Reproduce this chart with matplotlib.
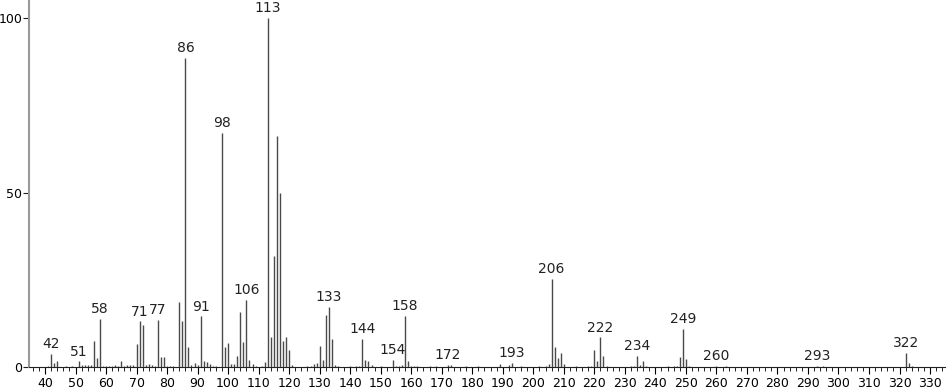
import numpy as np
import matplotlib
matplotlib.use("Agg")
import matplotlib.pyplot as plt
from matplotlib.ticker import MultipleLocator

# m/z values and relative intensities
mz = [41, 42, 43, 44, 47, 49, 51, 52, 53, 54, 55, 56, 57, 58, 59, 60, 61, 62, 63, 64,
      65, 66, 67, 68, 69, 70, 71, 72, 73, 74, 75, 76, 77, 78, 79, 80, 81, 82, 84, 85,
      86, 87, 88, 89, 90, 91, 92, 93, 94, 95, 96, 98, 99, 100, 101, 102, 103, 104, 105, 106,
      107, 108, 109, 111, 112, 113, 114, 115, 116, 117, 118, 119, 120, 121, 126, 127, 128, 129, 130, 131,
      132, 133, 134, 135, 136, 140, 142, 143, 144, 145, 146, 147, 150, 154, 155, 156, 157, 158, 159, 160,
      161, 162, 166, 168, 172, 173, 178, 182, 189, 192, 193, 196, 202, 204, 205, 206, 207, 208, 209, 210,
      214, 218, 219, 220, 221, 222, 223, 224, 232, 233, 234, 235, 236, 237, 244, 246, 247, 248, 249, 250,
      251, 260, 263, 293, 295, 322, 323, 324]
intensity = [0.3, 3.8, 1.1, 1.6, 0.3, 0.3, 1.6, 0.5, 0.6, 0.5, 0.6, 7.5, 2.7, 13.8, 0.3, 0.3, 0.4, 0.4, 0.7, 0.4,
             1.8, 0.4, 0.5, 0.5, 0.5, 6.7, 13.1, 11.9, 0.7, 0.8, 0.5, 0.4, 13.6, 3.0, 3.0, 0.4, 0.4, 0.4, 18.5, 13.1,
             88.5, 5.7, 0.5, 1.1, 0.5, 14.5, 1.8, 1.4, 0.8, 0.4, 0.3, 67.0, 5.7, 6.9, 1.0, 1.0, 3.2, 15.9, 7.3, 19.3,
             2.1, 0.8, 0.3, 0.3, 1.3, 100.0, 8.6, 31.9, 66.1, 49.9, 7.5, 8.6, 4.8, 0.5, 0.3, 0.4, 0.9, 1.2, 5.9, 2.1,
             14.9, 17.2, 8.1, 0.6, 0.3, 0.3, 0.3, 0.3, 8.1, 2.1, 1.6, 0.5, 0.3, 2.1, 0.4, 0.4, 0.5, 14.7, 1.6, 0.4,
             0.4, 0.3, 0.3, 0.3, 0.6, 0.5, 0.3, 0.3, 0.8, 0.5, 1.1, 0.3, 0.3, 0.4, 0.8, 25.3, 5.7, 2.7, 4.0, 1.0,
             0.3, 0.3, 0.4, 5.0, 1.6, 8.5, 3.2, 0.4, 0.3, 0.4, 3.2, 0.6, 1.6, 0.4, 0.3, 0.3, 0.4, 3.0, 11.0, 2.3,
             0.3, 0.3, 0.2, 0.3, 0.2, 4.0, 1.1, 0.3]

# peaks that carry a label
labeled = [42, 51, 58, 71, 77, 86, 91, 98, 106, 113, 133, 144, 154, 158,
           172, 193, 206, 222, 234, 249, 260, 293, 322]

fig = plt.figure(figsize=(9.51, 3.89), dpi=100)
ax = fig.add_axes([29 / 951, 22 / 389, 916 / 951, 367 / 389])

ax.vlines(mz, 0, intensity, color='#4a4a4a', linewidth=1.0)

lookup = dict(zip(mz, intensity))
for m in labeled:
    ax.annotate(str(m), (m, lookup[m]), xytext=(0, 2), textcoords='offset points',
                ha='center', va='bottom', fontsize=10, color='#222222')

ax.set_xlim(34.76, 334.9)
ax.set_ylim(0, 105.2)
ax.xaxis.set_major_locator(MultipleLocator(10))
ax.xaxis.set_minor_locator(MultipleLocator(2))
ax.set_xticks(np.arange(40, 331, 10))
ax.set_yticks([0, 50, 100])

for s in ['top', 'right']:
    ax.spines[s].set_visible(False)
ax.spines['left'].set_color('#999999')
ax.spines['left'].set_linewidth(1.5)
ax.spines['bottom'].set_color('#222222')
ax.tick_params(axis='x', which='major', length=5, width=0.8, labelsize=9, pad=2)
ax.tick_params(axis='x', which='minor', length=3, width=0.6)
ax.tick_params(axis='y', length=4, width=0.8, labelsize=9, pad=1, color='#222222')

plt.savefig('out.png', dpi=100)
